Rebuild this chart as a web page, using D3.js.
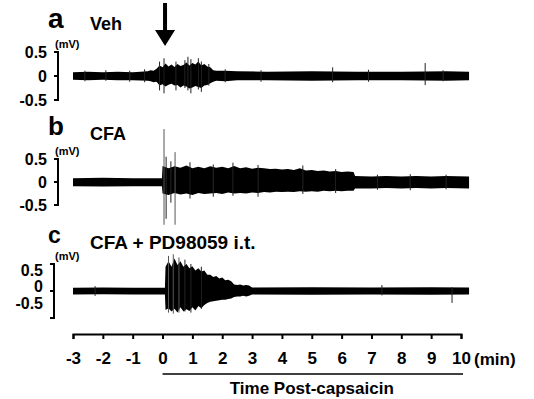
<!DOCTYPE html>
<html>
<head>
<meta charset="utf-8">
<script src="https://cdn.jsdelivr.net/npm/d3@7/dist/d3.min.js"></script>
<style>
  html, body { margin: 0; padding: 0; background: #fff; }
  svg { display: block; }
  text { font-family: Arial, "Liberation Sans", sans-serif; font-weight: bold; fill: #000; }
</style>
</head>
<body>
<div id="chart"></div>
<script>
// time axis (min)
const timeTicks = [-3, -2, -1, 0, 1, 2, 3, 4, 5, 6, 7, 8, 9, 10]
const mvTicks = [0.5, 0, -0.5]
const mvLabels = ["0.5", "0", "-0.5"]
const panelLetters = ["a", "b", "c"]
const panelNames = ["Veh", "CFA", "CFA + PD98059 i.t."]

// trace a: envelope of the recording (mV)
const aTime  = [-3.0, -2.5, -2.0, -1.5, -1.0, -0.5, -0.4, -0.3, -0.2, -0.1, 0.0, 0.1, 0.2, 0.3, 0.4, 0.5, 0.6, 0.7, 0.8, 0.9, 1.0, 1.1, 1.2, 1.3, 1.4, 1.5, 1.6, 1.7, 1.8, 2.1, 2.5, 3.5, 5.0, 6.5, 8.0, 9.5, 10.27]
const aUpper = [0.08, 0.09, 0.08, 0.09, 0.08, 0.10, 0.12, 0.11, 0.15, 0.22, 0.18, 0.26, 0.20, 0.24, 0.19, 0.25, 0.21, 0.23, 0.28, 0.22, 0.27, 0.24, 0.30, 0.22, 0.25, 0.20, 0.18, 0.12, 0.11, 0.11, 0.10, 0.09, 0.10, 0.09, 0.09, 0.10, 0.09]
const aLower = [-0.08, -0.09, -0.08, -0.09, -0.09, -0.10, -0.11, -0.13, -0.12, -0.20, -0.17, -0.22, -0.18, -0.16, -0.20, -0.19, -0.24, -0.20, -0.22, -0.26, -0.24, -0.21, -0.23, -0.25, -0.20, -0.19, -0.15, -0.12, -0.10, -0.11, -0.09, -0.09, -0.10, -0.09, -0.09, -0.10, -0.09]
const aSpikeT  = [-2.6, -1.9, -1.1, -0.6, -0.1, 0.05, 0.45, 0.75, 0.85, 0.95, 1.2, 1.3, 1.55, 2.1, 3.3, 5.7, 6.9, 8.8, 9.4]
const aSpikeHi = [0.11, 0.12, 0.11, 0.14, 0.30, 0.37, 0.30, 0.33, 0.40, 0.35, 0.37, 0.30, 0.25, 0.14, 0.12, 0.18, 0.13, 0.27, 0.12]
const aSpikeLo = [-0.11, -0.10, -0.12, -0.13, -0.30, -0.36, -0.30, -0.25, -0.30, -0.36, -0.28, -0.33, -0.20, -0.13, -0.12, -0.13, -0.12, -0.19, -0.11]

// trace b
const bTime  = [-3.0, -2.0, -1.0, -0.02, 0.0, 0.2, 0.4, 0.6, 0.8, 1.0, 1.2, 1.4, 1.6, 1.8, 2.0, 2.2, 2.4, 2.6, 2.8, 3.0, 3.2, 3.4, 3.6, 3.8, 4.0, 4.2, 4.4, 4.6, 4.8, 5.0, 5.2, 5.4, 5.6, 5.8, 6.0, 6.2, 6.4, 6.45, 7.0, 7.5, 8.0, 8.5, 9.0, 9.5, 10.27]
const bUpper = [0.08, 0.09, 0.08, 0.08, 0.35, 0.30, 0.34, 0.31, 0.36, 0.30, 0.33, 0.30, 0.34, 0.31, 0.33, 0.30, 0.35, 0.30, 0.32, 0.29, 0.31, 0.30, 0.28, 0.29, 0.27, 0.28, 0.26, 0.30, 0.25, 0.26, 0.24, 0.25, 0.23, 0.24, 0.22, 0.23, 0.22, 0.13, 0.12, 0.13, 0.12, 0.13, 0.12, 0.13, 0.12]
const bLower = [-0.09, -0.10, -0.09, -0.09, -0.25, -0.28, -0.24, -0.27, -0.25, -0.28, -0.24, -0.26, -0.25, -0.24, -0.26, -0.23, -0.25, -0.24, -0.25, -0.23, -0.24, -0.22, -0.23, -0.21, -0.22, -0.21, -0.22, -0.20, -0.21, -0.20, -0.21, -0.19, -0.20, -0.19, -0.20, -0.19, -0.19, -0.14, -0.14, -0.13, -0.14, -0.13, -0.14, -0.13, -0.14]
const bSpikeT  = [0.05, 0.12, 0.28, 0.42, 0.92, 1.7, 2.36, 3.2, 4.7, 5.8, 7.2, 8.3, 9.5]
const bSpikeHi = [1.15, 0.55, 0.45, 0.65, 0.43, 0.38, 0.42, 0.37, 0.36, 0.28, 0.16, 0.17, 0.16]
const bSpikeLo = [-0.93, -0.80, -0.45, -0.93, -0.36, -0.32, -0.30, -0.32, -0.26, -0.24, -0.17, -0.18, -0.16]

// trace c
const cTime  = [-3.0, -2.0, -1.0, 0.08, 0.1, 0.2, 0.3, 0.4, 0.5, 0.6, 0.7, 0.8, 0.9, 1.0, 1.1, 1.2, 1.3, 1.4, 1.5, 1.6, 1.7, 1.8, 1.9, 2.0, 2.1, 2.2, 2.3, 2.4, 2.5, 2.6, 2.7, 2.8, 2.9, 3.0, 5.0, 7.0, 9.0, 10.27]
const cUpper = [0.06, 0.065, 0.06, 0.06, 0.45, 0.55, 0.45, 0.60, 0.48, 0.55, 0.45, 0.50, 0.42, 0.46, 0.38, 0.42, 0.36, 0.38, 0.30, 0.30, 0.26, 0.28, 0.23, 0.25, 0.20, 0.21, 0.18, 0.12, 0.11, 0.12, 0.10, 0.11, 0.10, 0.065, 0.07, 0.065, 0.07, 0.065]
const cLower = [-0.065, -0.06, -0.065, -0.065, -0.35, -0.32, -0.38, -0.33, -0.40, -0.30, -0.38, -0.34, -0.37, -0.30, -0.36, -0.28, -0.32, -0.26, -0.22, -0.20, -0.19, -0.18, -0.17, -0.16, -0.16, -0.15, -0.14, -0.11, -0.10, -0.10, -0.09, -0.10, -0.09, -0.065, -0.07, -0.065, -0.07, -0.065]
const cSpikeT  = [-2.26, 0.2, 0.36, 0.55, 0.75, 0.95, 1.3, 7.35, 9.7]
const cSpikeHi = [0.09, 0.65, 0.68, 0.62, 0.58, 0.50, 0.45, 0.11, 0.07]
const cSpikeLo = [-0.09, -0.40, -0.42, -0.40, -0.38, -0.40, -0.33, -0.08, -0.22]

const traces = [
  { time: aTime, upper: aUpper, lower: aLower, st: aSpikeT, sh: aSpikeHi, sl: aSpikeLo },
  { time: bTime, upper: bUpper, lower: bLower, st: bSpikeT, sh: bSpikeHi, sl: bSpikeLo },
  { time: cTime, upper: cUpper, lower: cLower, st: cSpikeT, sh: cSpikeHi, sl: cSpikeLo }
]

const width = 534, height = 399

// layout of each panel: scale bar range, label placement
const panels = [
  { yr: [100, 52], lab: [100, 52], barX: 58, letterY: 28, letterSize: 28, nameY: 30, nameSize: 18 },
  { yr: [205, 159], lab: [205, 159], barX: 58, letterY: 135, letterSize: 26, nameY: 140, nameSize: 18 },
  { yr: [318, 264], lab: [303, 270], barX: 54, letterY: 243, letterSize: 23, nameY: 249, nameSize: 19 }
]

const svg = d3.select("#chart").append("svg")
  .attr("width", width)
  .attr("height", height)

svg.append("defs").append("filter")
  .attr("id", "soft")
  .append("feGaussianBlur")
  .attr("stdDeviation", 0.35)

const x = d3.scaleLinear().domain([-3, 10]).range([73, 461])

panels.forEach((p, i) => {
  const y = d3.scaleLinear().domain([-0.5, 0.5]).range(p.yr)
  const yl = d3.scaleLinear().domain([-0.5, 0.5]).range(p.lab)
  const t = traces[i]
  const g = svg.append("g")
  const tr = g.append("g").attr("filter", "url(#soft)")

  // envelope of the trace
  const pts = t.time.map((d, k) => ({ t: d, hi: t.upper[k], lo: t.lower[k] }))
  const area = d3.area()
    .x(d => x(d.t))
    .y0(d => y(d.lo))
    .y1(d => y(d.hi))
  tr.append("path")
    .datum(pts)
    .attr("d", area)
    .attr("fill", "#000")

  // individual spikes
  const spikes = t.st.map((d, k) => ({ t: d, hi: t.sh[k], lo: t.sl[k] }))
  tr.selectAll("line.spike")
    .data(spikes)
    .join("line")
    .attr("class", "spike")
    .attr("x1", d => x(d.t)).attr("x2", d => x(d.t))
    .attr("y1", d => y(d.hi)).attr("y2", d => y(d.lo))
    .attr("stroke", d => Math.abs(d.hi) > 0.6 ? "#555" : "#222")
    .attr("stroke-width", 1)

  // scale bar
  const bar = g.append("g")
  bar.append("line")
    .attr("x1", p.barX).attr("x2", p.barX)
    .attr("y1", y(0.5) - 1).attr("y2", y(-0.5) + 1)
    .attr("stroke", "#000").attr("stroke-width", 2)
  bar.selectAll("line.tk")
    .data(mvTicks)
    .join("line")
    .attr("class", "tk")
    .attr("x1", p.barX - 4).attr("x2", p.barX)
    .attr("y1", d => y(d)).attr("y2", d => y(d))
    .attr("stroke", "#000").attr("stroke-width", 2)
  bar.selectAll("text")
    .data(mvTicks)
    .join("text")
    .attr("x", p.barX - 11)
    .attr("y", d => yl(d))
    .attr("dy", "0.36em")
    .attr("text-anchor", "end")
    .style("font-size", "16px")
    .text((d, k) => mvLabels[k])
  g.append("text")
    .attr("x", 55)
    .attr("y", y(0.5) - 4)
    .style("font-size", "11px")
    .text("(mV)")

  g.append("text")
    .attr("x", 48)
    .attr("y", p.letterY)
    .style("font-size", p.letterSize + "px")
    .text(panelLetters[i])
  g.append("text")
    .attr("x", 90)
    .attr("y", p.nameY)
    .style("font-size", p.nameSize + "px")
    .text(panelNames[i])
})

// capsaicin arrow
const ax = x(0) + 2.5
svg.append("path")
  .attr("d", `M${ax - 2},3 L${ax + 2},3 L${ax + 2},30 L${ax + 10},30 L${ax},46 L${ax - 10},30 L${ax - 2},30 Z`)
  .attr("fill", "#000")

// time axis
const xAxis = svg.append("g")
  .attr("transform", "translate(0,334)")
  .call(d3.axisBottom(x).tickValues(timeTicks).tickSize(5).tickSizeOuter(5).tickPadding(13).tickFormat(d => String(d)))
xAxis.select(".domain").attr("stroke", "#000").attr("stroke-width", 2)
xAxis.selectAll(".tick line").attr("stroke", "#000").attr("stroke-width", 2)
xAxis.selectAll(".tick text")
  .style("font-family", "Arial, 'Liberation Sans', sans-serif")
  .style("font-weight", "bold")
  .style("font-size", "17px")
  .attr("fill", "#000")

svg.append("text")
  .attr("x", 474)
  .attr("y", 365)
  .style("font-size", "17px")
  .text("(min)")

svg.append("line")
  .attr("x1", x(0)).attr("x2", x(10) + 2)
  .attr("y1", 374).attr("y2", 374)
  .attr("stroke", "#000").attr("stroke-width", 1.5)

svg.append("text")
  .attr("x", x(5))
  .attr("y", 394)
  .attr("text-anchor", "middle")
  .style("font-size", "17px")
  .text("Time Post-capsaicin")
</script>
</body>
</html>
